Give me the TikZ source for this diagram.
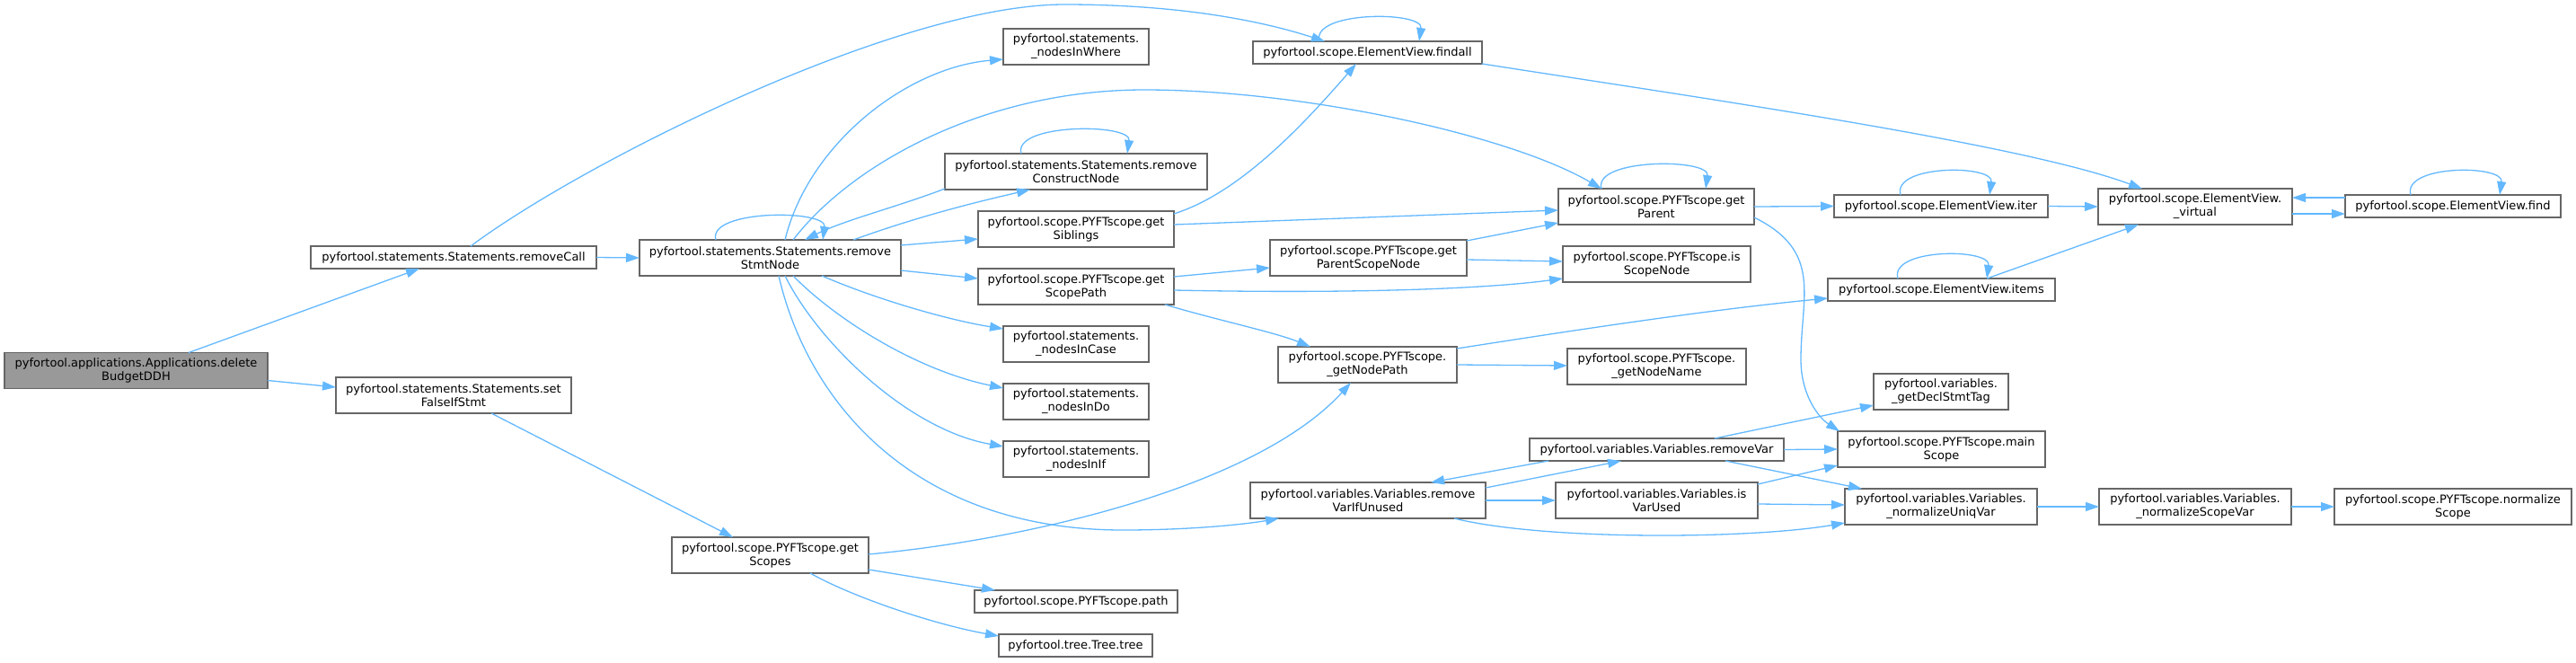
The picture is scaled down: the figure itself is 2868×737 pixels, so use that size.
\documentclass[tikz,border=0pt]{standalone}
\usepackage{fontspec}
\setmainfont{DejaVu Sans}
\usetikzlibrary{arrows.meta}
\definecolor{boxgray}{RGB}{102,102,102}
\definecolor{mainfill}{RGB}{153,153,153}
\definecolor{edgeblue}{RGB}{99,184,255}
\tikzset{
  fn/.style={draw=boxgray, line width=1.4pt, fill=white, inner sep=0pt, outer sep=0pt,
             align=center, font=\fontsize{13}{15}\selectfont, minimum height=40pt},
  fnone/.style={fn, minimum height=25pt},
  call/.style={draw=edgeblue, line width=1.3pt, -{Triangle[length=15pt,width=10pt]}},
}

\begin{document}
\begin{tikzpicture}[x=1pt, y=-1pt]
    \useasboundingbox (0,0) rectangle (2868,737);
    % --- column 1: the caller ---
    \node[fn, fill=mainfill, minimum width=293pt] (delBudget) at (151.5,412.5)
      {pyfortool.applications.Applications.delete\\BudgetDDH};
    % --- column 2 ---
    \node[fnone, minimum width=318pt] (removeCall) at (505,286.5)
      {pyfortool.statements.Statements.removeCall};
    \node[fn, minimum width=262pt] (setFalse) at (505,440)
      {pyfortool.statements.Statements.set\\FalseIfStmt};
    % --- column 3 ---
    \node[fn, minimum width=291pt] (rmStmt) at (857.5,287)
      {pyfortool.statements.Statements.remove\\StmtNode};
    \node[fn, minimum width=219pt] (getScopes) at (857.5,618)
      {pyfortool.scope.PYFTscope.get\\Scopes};
    % --- column 4 ---
    \node[fn, minimum width=162pt] (inWhere) at (1198,52)
      {pyfortool.statements.\\\_nodesInWhere};
    \node[fn, minimum width=292pt] (rmConstr) at (1198,191)
      {pyfortool.statements.Statements.remove\\ConstructNode};
    \node[fn, minimum width=218pt] (getSibl) at (1198,255)
      {pyfortool.scope.PYFTscope.get\\Siblings};
    \node[fn, minimum width=218pt] (getScPath) at (1198,319)
      {pyfortool.scope.PYFTscope.get\\ScopePath};
    \node[fn, minimum width=162pt] (inCase) at (1198,383)
      {pyfortool.statements.\\\_nodesInCase};
    \node[fn, minimum width=162pt] (inDo) at (1198,447)
      {pyfortool.statements.\\\_nodesInDo};
    \node[fn, minimum width=162pt] (inIf) at (1198,511)
      {pyfortool.statements.\\\_nodesInIf};
    \node[fnone, minimum width=226pt] (path) at (1198,669.5)
      {pyfortool.scope.PYFTscope.path};
    \node[fnone, minimum width=171pt] (tree) at (1197.5,718.5)
      {pyfortool.tree.Tree.tree};
    % --- column 5 ---
    \node[fnone, minimum width=255pt] (findall) at (1522.5,58.5)
      {pyfortool.scope.ElementView.findall};
    \node[fn, minimum width=219pt] (getParSN) at (1523.5,287)
      {pyfortool.scope.PYFTscope.get\\ParentScopeNode};
    \node[fn, minimum width=199pt] (getNodePath) at (1522.5,406)
      {pyfortool.scope.PYFTscope.\\\_getNodePath};
    \node[fn, minimum width=262pt] (rmVarIfU) at (1523,557)
      {pyfortool.variables.Variables.remove\\VarIfUnused};
    % --- column 6 ---
    \node[fn, minimum width=218pt] (getParent) at (1844,230)
      {pyfortool.scope.PYFTscope.get\\Parent};
    \node[fn, minimum width=209pt] (isScN) at (1844.5,294)
      {pyfortool.scope.PYFTscope.is\\ScopeNode};
    \node[fn, minimum width=199pt] (getNodeName) at (1844.5,408)
      {pyfortool.scope.PYFTscope.\\\_getNodeName};
    \node[fnone, minimum width=283pt] (removeVar) at (1844.5,500.5)
      {pyfortool.variables.Variables.removeVar};
    \node[fn, minimum width=225pt] (isVarUsed) at (1844.5,557)
      {pyfortool.variables.Variables.is\\VarUsed};
    % --- column 7 ---
    \node[fnone, minimum width=238pt] (iter) at (2161,229.5)
      {pyfortool.scope.ElementView.iter};
    \node[fnone, minimum width=253pt] (items) at (2161.5,322.5)
      {pyfortool.scope.ElementView.items};
    \node[fn, minimum width=150pt] (declTag) at (2161,436)
      {pyfortool.variables.\\\_getDeclStmtTag};
    \node[fn, minimum width=231pt] (mainScope) at (2161.5,500)
      {pyfortool.scope.PYFTscope.main\\Scope};
    \node[fn, minimum width=214pt] (normUniq) at (2161,564)
      {pyfortool.variables.Variables.\\\_normalizeUniqVar};
    % --- columns 8 and 9 ---
    \node[fn, minimum width=216pt] (virtual) at (2444,230)
      {pyfortool.scope.ElementView.\\\_virtual};
    \node[fn, minimum width=214pt] (normScVar) at (2444,564)
      {pyfortool.variables.Variables.\\\_normalizeScopeVar};
    \node[fnone, minimum width=240pt] (find) at (2731,229.5)
      {pyfortool.scope.ElementView.find};
    \node[fn, minimum width=264pt] (normScope) at (2731,564)
      {pyfortool.scope.PYFTscope.normalize\\Scope};

    % --- calls from the caller ---
    \draw[call] ([xshift=205pt]delBudget.north west) -- ([xshift=121pt]removeCall.south west);
    \draw[call] ([yshift=-31pt]delBudget.north east) -- ([yshift=-11pt]setFalse.north west);
    % --- removeCall ---
    \draw[call] (removeCall.east) -- (rmStmt.west);
    \draw[call] ([xshift=178pt]removeCall.north west) .. controls (650,180) and (1000,5) .. (1185,5)
      .. controls (1320,5) and (1410,25) .. ([xshift=80pt]findall.north west);
    % --- setFalseIfStmt ---
    \draw[call] ([xshift=173pt]setFalse.south west) -- ([xshift=68pt]getScopes.north west);
    % --- removeStmtNode ---
    \draw[call] ([xshift=85pt]rmStmt.north west) .. controls +(-10,-34) and +(5,-34) .. ([xshift=204pt]rmStmt.north west);
    \draw[call] ([xshift=162pt]rmStmt.north west) .. controls (900,160) and (1010,75) .. ([yshift=-34pt]inWhere.north west);
    \draw[call] ([xshift=171pt]rmStmt.north west) .. controls (950,180) and (1100,100) .. (1274,100)
      .. controls (1450,100) and (1680,150) .. ([xshift=48pt]getParent.north west);
    \draw[call] ([xshift=238pt]rmStmt.north west) .. controls (1030,238) and (1100,222) .. ([xshift=95pt]rmConstr.south west);
    \draw[call] ([yshift=-6pt]rmStmt.north east) -- ([yshift=-31pt]getSibl.north west);
    \draw[call] ([yshift=-34pt]rmStmt.north east) -- ([yshift=-11pt]getScPath.north west);
    \draw[call] ([xshift=203pt]rmStmt.south west) .. controls (980,335) and (1060,357) .. ([yshift=-3pt]inCase.north west);
    \draw[call] ([xshift=171pt]rmStmt.south west) .. controls (930,355) and (1020,412) .. ([yshift=-5pt]inDo.north west);
    \draw[call] ([xshift=162pt]rmStmt.south west) .. controls (910,380) and (1010,478) .. ([yshift=-6pt]inIf.north west);
    \draw[call] ([xshift=155pt]rmStmt.south west) .. controls (900,450) and (1020,590) .. (1250,590)
      .. controls (1330,590) and (1390,583) .. ([xshift=32pt]rmVarIfU.south west);
    % --- removeConstructNode ---
    \draw[call] ([yshift=-39pt]rmConstr.north west) .. controls (1000,230) and (940,245) .. ([xshift=184pt]rmStmt.north west);
    \draw[call] ([xshift=85pt]rmConstr.north west) .. controls +(-10,-34) and +(5,-34) .. ([xshift=203pt]rmConstr.north west);
    % --- getScopes ---
    \draw[call] ([yshift=-19pt]getScopes.north east) .. controls (1150,600) and (1400,540) .. ([xshift=81pt]getNodePath.south west);
    \draw[call] ([yshift=-36pt]getScopes.north east) -- ([xshift=23pt]path.north west);
    \draw[call] ([xshift=154pt]getScopes.south west) .. controls (950,665) and (1040,695) .. ([yshift=-2pt]tree.north west);
    % --- getSiblings and getScopePath ---
    \draw[call] ([yshift=-3pt]getSibl.north east) .. controls (1380,215) and (1450,140) .. ([xshift=115pt]findall.south west);
    \draw[call] ([yshift=-15pt]getSibl.north east) -- ([yshift=-24pt]getParent.north west);
    \draw[call] ([yshift=-9pt]getScPath.north east) -- ([yshift=-31pt]getParSN.north west);
    \draw[call] ([yshift=-24pt]getScPath.north east) .. controls (1500,327) and (1650,322) .. ([yshift=-36pt]isScN.north west);
    \draw[call] ([xshift=208pt]getScPath.south west) .. controls (1350,355) and (1420,370) .. ([xshift=36pt]getNodePath.north west);
    % --- getParentScopeNode and _getNodePath ---
    \draw[call] ([yshift=-1pt]getParSN.north east) -- ([yshift=-38pt]getParent.north west);
    \draw[call] ([yshift=-22pt]getParSN.north east) -- ([yshift=-17pt]isScN.north west);
    \draw[call] ([yshift=-2pt]getNodePath.north east) .. controls (1750,368) and (1900,345) .. ([yshift=-22pt]items.north west);
    \draw[call] ([yshift=-20pt]getNodePath.north east) -- ([yshift=-19pt]getNodeName.north west);
    % --- getParent ---
    \draw[call] ([xshift=48pt]getParent.north west) .. controls +(-10,-34) and +(5,-34) .. ([xshift=164pt]getParent.north west);
    \draw[call] (getParent.east) -- (iter.west);
    \draw[call] ([yshift=-32pt]getParent.north east) .. controls (2030,280) and (2005,330) .. (2005,400)
      .. controls (2005,440) and (2025,465) .. ([xshift=2pt]mainScope.north west);
    % --- ElementView methods ---
    \draw[call] ([xshift=74pt]iter.north west) .. controls +(-10,-34) and +(5,-34) .. ([xshift=173pt]iter.north west);
    \draw[call] (iter.east) -- (virtual.west);
    \draw[call] ([xshift=74pt]findall.north west) .. controls +(-10,-34) and +(5,-34) .. ([xshift=185pt]findall.north west);
    \draw[call] ([yshift=-25pt]findall.north east) .. controls (1900,110) and (2250,160) .. ([xshift=49pt]virtual.north west);
    \draw[call] ([yshift=-3pt]find.north west) -- ([yshift=-10pt]virtual.north east);
    \draw[call] ([yshift=-28pt]virtual.north east) -- ([yshift=-21pt]find.north west);
    \draw[call] ([xshift=73pt]find.north west) .. controls +(-10,-34) and +(5,-34) .. ([xshift=172pt]find.north west);
    \draw[call] ([xshift=78pt]items.north west) .. controls +(-10,-34) and +(5,-34) .. ([xshift=177pt]items.north west);
    \draw[call] ([xshift=177pt]items.north west) -- ([xshift=45pt]virtual.south west);
    % --- variables ---
    \draw[call] ([xshift=206pt]removeVar.north west) -- ([yshift=-35pt]declTag.north west);
    \draw[call] (removeVar.east) -- (mainScope.west);
    \draw[call] ([xshift=218pt]removeVar.south west) -- ([xshift=19pt]normUniq.north west);
    \draw[call] ([xshift=21pt]removeVar.south west) -- ([xshift=201pt]rmVarIfU.north west);
    \draw[call] ([yshift=-6pt]rmVarIfU.north east) -- ([xshift=102pt]removeVar.south west);
    \draw[call] (rmVarIfU.east) -- (isVarUsed.west);
    \draw[call] ([xshift=227pt]rmVarIfU.south west) .. controls (1720,602) and (1950,600) .. ([yshift=-38pt]normUniq.north west);
    \draw[call] ([yshift=-2pt]isVarUsed.north east) -- ([yshift=-38pt]mainScope.north west);
    \draw[call] ([yshift=-24pt]isVarUsed.north east) -- ([yshift=-18pt]normUniq.north west);
    \draw[call] (normUniq.east) -- (normScVar.west);
    \draw[call] (normScVar.east) -- (normScope.west);
\end{tikzpicture}
\end{document}
